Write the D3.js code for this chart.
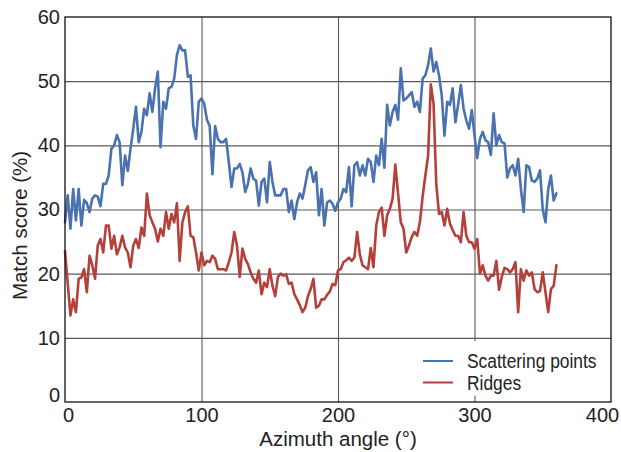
<!DOCTYPE html>
<html>
<head>
<meta charset="utf-8">
<script src="https://cdn.jsdelivr.net/npm/d3@7"></script>
<style>
  html, body { margin: 0; padding: 0; background: #fff; }
  svg { display: block; }
  .tick text { font-family: "Liberation Sans", Arial, sans-serif; font-size: 20px; fill: #222; }
</style>
</head>
<body>
<svg id="chart" width="621" height="452"></svg>
<script>
// ---- data ----
const angleStart = 0, angleEnd = 360, angleStep = 2;
const angles = d3.range(angleStart, angleEnd + 1, angleStep);

const scatteringPoints = [
  28, 32.2, 27, 33.2, 28.3, 33.2, 27.5, 31.5, 31, 29.6,
  31.7, 32.2, 32, 30.5, 34, 34, 35.3, 39.5, 40, 41.6,
  40.5, 33.8, 38.4, 36, 39.5, 42.6, 46, 40.5, 42.1, 45.7,
  44.7, 48.1, 45.2, 48.9, 51.5, 39.7, 46.8, 45.7, 48.9, 49.1,
  50.4, 54.1, 55.6, 54.8, 54.8, 50.7, 50.9, 43.1, 41, 46.8,
  47.3, 46.5, 44, 43, 35.5, 43, 41, 40.5, 40.5, 41,
  37.4, 33.5, 36.4, 36.4, 37.1, 35.8, 32.7, 34, 36.4, 34.8,
  34.5, 30.6, 34.3, 34.8, 31.1, 37.4, 34.3, 32.2, 32.2, 32.2,
  33.2, 33.2, 29.6, 31.4, 28.5, 31.1, 32.5, 31.7, 33.8, 36.1,
  36.6, 34.3, 35.8, 29.1, 33.2, 27.5, 31.1, 31.4, 30.9, 29.8,
  31.1, 31.7, 33.2, 32.7, 36.6, 30.5, 36.9, 37.4, 35.3, 36.9,
  35.3, 37.9, 37.4, 34.3, 38.4, 36.9, 41, 36.5, 46.3, 43.1,
  45.2, 46.3, 44, 52, 47, 47.3, 47.8, 48.3, 46, 46.8,
  45.2, 50.4, 50.9, 52.5, 55.1, 51.5, 53, 50.9, 47.8, 41.5,
  46.8, 46.3, 48.9, 43.6, 46.3, 49.4, 45.7, 43.9, 42.6, 45.5,
  41.6, 38, 41, 42.1, 40.8, 40.5, 38.5, 45, 40, 41.6,
  40.5, 40.3, 35, 36.4, 36.9, 35.3, 37.9, 33.2, 29.6, 36.9,
  36.6, 34.5, 34.3, 34.8, 36.1, 30, 28, 33.2, 35.3, 31.4,
  32.5
];

const ridges = [
  23.5, 18.5, 13.5, 16, 14, 19.2, 19.4, 20.7, 17.1, 22.8,
  21.3, 19.2, 24.4, 25.4, 23.3, 27.5, 27.5, 23.9, 25.9, 23,
  24.1, 25.9, 24.1, 23.3, 21, 24.4, 25.4, 24, 27.2, 25.9,
  32.5, 29.1, 28, 27, 25, 27, 25.9, 29.6, 27, 29.3,
  28, 31, 22, 28, 29.6, 30.5, 25.9, 25.7, 23.3, 20.5,
  23.3, 21.3, 22, 21.8, 22.8, 22.3, 20.7, 20.7, 20.7, 20.5,
  21.8, 23.3, 26.5, 24.4, 19.5, 23.9, 22.3, 21.5, 20.2, 19.2,
  18.6, 20.5, 16.8, 18.6, 17.9, 20.7, 18.1, 16.5, 19.5, 20,
  19.7, 19.9, 18.4, 18.6, 16.8, 16, 15.1, 14, 14.7, 16.5,
  17.6, 19.2, 14.7, 15, 16, 16, 16.7, 17.2, 18.4, 18.2,
  20.5, 20.7, 21.8, 22.1, 22.5, 22, 22.5, 26.5, 23, 21.3,
  21, 20.7, 24, 21, 27.5, 29.6, 30.3, 25.9, 29.1, 30.1,
  31.7, 37, 32.5, 28, 27, 23.3, 24.4, 25.7, 26.5, 25.9,
  28, 32, 35.3, 38.4, 49.5, 46.5, 34, 29.3, 29.6, 27.5,
  30.1, 27.8, 26.8, 25.9, 25.9, 24.9, 29.6, 25.9, 24.9, 24.9,
  23.9, 25.4, 20, 21.3, 19.7, 18.9, 19.7, 19.7, 22, 17.5,
  19.5, 20.9, 20.7, 20.2, 20.7, 21.8, 14, 20.7, 18.9, 20.5,
  19.7, 20.2, 17.6, 17.1, 17.3, 20.2, 17.1, 14, 17.6, 18.1,
  21.3
];

const seriesNames = ["Scattering points", "Ridges"];
const seriesColors = ["#4a71b0", "#b5403a"];
const xTicks = [0, 100, 200, 300, 400];
const yTicks = [0, 10, 20, 30, 40, 50, 60];
const xTitle = "Azimuth angle (°)";
const yTitle = "Match score (%)";

// ---- layout ----
const svg = d3.select("#chart");
const m = { left: 65, top: 17, right: 621 - 611, bottom: 452 - 402 };
const W = 621 - m.left - m.right;
const H = 452 - m.top - m.bottom;

const x = d3.scaleLinear().domain([0, 400]).range([0, W]);
const y = d3.scaleLinear().domain([0, 60]).range([H, 0]);

const g = svg.append("g").attr("transform", `translate(${m.left},${m.top})`);

// gridlines
const gridY = g.append("g").call(
  d3.axisLeft(y).tickValues(yTicks.slice(1, -1)).tickSize(-W).tickFormat("")
);
gridY.select(".domain").remove();
gridY.selectAll("line").attr("stroke", "#5a5a5a").attr("stroke-width", 1.1);

const gridX = g.append("g").attr("transform", `translate(0,${H})`).call(
  d3.axisBottom(x).tickValues(xTicks.slice(1, -1)).tickSize(-H).tickFormat("")
);
gridX.select(".domain").remove();
gridX.selectAll("line").attr("stroke", "#5a5a5a").attr("stroke-width", 1.1);

// legend background (covers gridlines)
const legend = g.append("g");
legend.append("rect")
  .attr("x", x(262)).attr("y", y(9.5))
  .attr("width", W - x(262)).attr("height", y(1) - y(9.5))
  .attr("fill", "#fff");

// data lines
const series = [scatteringPoints, ridges];
const line = d3.line()
  .x((d, i) => x(angles[i]))
  .y(d => y(d));

series.forEach((s, k) => {
  g.append("path")
    .datum(s)
    .attr("fill", "none")
    .attr("stroke", seriesColors[k])
    .attr("stroke-width", 2.6)
    .attr("stroke-linejoin", "round")
    .attr("stroke-linecap", "round")
    .attr("d", line);
});

// frame
g.append("rect")
  .attr("x", 0).attr("y", 0).attr("width", W).attr("height", H)
  .attr("fill", "none").attr("stroke", "#111").attr("stroke-width", 1.3);

// axes
const yAxis = g.append("g").call(
  d3.axisLeft(y).tickValues(yTicks).tickSize(0).tickPadding(5).tickFormat(d3.format("d"))
);
yAxis.select(".domain").remove();
yAxis.selectAll(".tick text").filter(d => d === 0).attr("dy", "-0.05em");

const xAxis = g.append("g").attr("transform", `translate(0,${H})`).call(
  d3.axisBottom(x).tickValues(xTicks).tickSize(0).tickPadding(6).tickFormat(d3.format("d"))
);
xAxis.select(".domain").remove();
xAxis.selectAll(".tick text").filter(d => d === 0).attr("dx", "3");
xAxis.selectAll(".tick text").filter(d => d === 400).attr("dx", "-9");

// titles
svg.append("text")
  .attr("x", m.left + W / 2).attr("y", 446)
  .attr("text-anchor", "middle")
  .attr("font-family", "Liberation Sans, Arial, sans-serif")
  .attr("font-size", 20.5).attr("fill", "#222")
  .text(xTitle);

svg.append("text")
  .attr("transform", `translate(27,${m.top + y(30) + 16}) rotate(-90)`)
  .attr("text-anchor", "middle")
  .attr("font-family", "Liberation Sans, Arial, sans-serif")
  .attr("font-size", 20.5).attr("fill", "#222")
  .text(yTitle);

// legend entries (condensed lettering)
seriesNames.forEach((name, k) => {
  const ly = 361 + k * 21.5 - m.top;
  legend.append("line")
    .attr("x1", 423 - m.left).attr("x2", 453 - m.left)
    .attr("y1", ly).attr("y2", ly)
    .attr("stroke", seriesColors[k]).attr("stroke-width", 2);
  legend.append("text")
    .attr("transform", `translate(${467 - m.left},${ly}) scale(0.87,1)`)
    .attr("dy", "0.36em")
    .attr("font-family", "Liberation Sans, Arial, sans-serif")
    .attr("font-size", 20).attr("fill", "#222")
    .text(name);
});
</script>
</body>
</html>
